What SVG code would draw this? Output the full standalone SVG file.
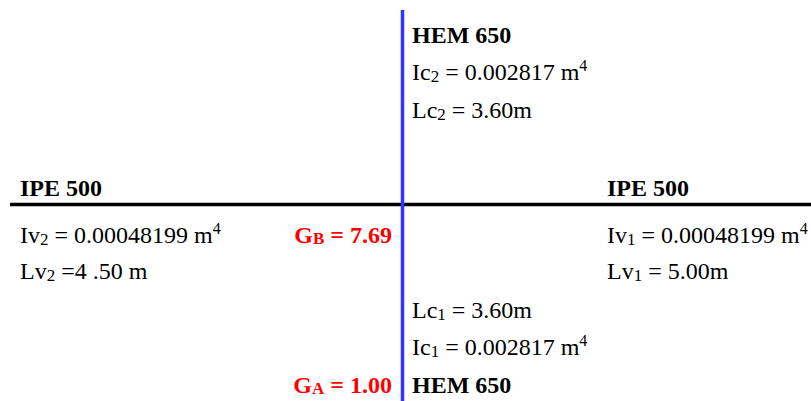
<svg xmlns="http://www.w3.org/2000/svg" width="811" height="401" viewBox="0 0 811 401">
<style>
text{font-family:"Liberation Serif","Times New Roman",serif;font-size:24px;fill:#000}
.b{font-weight:bold}
.r{font-weight:bold;fill:#ff0000}
.sub{font-size:17px}
.sup{font-size:16px}
</style>
<rect width="811" height="401" fill="#fff"/>
<g id="connectors">
<line x1="10" y1="204.5" x2="811" y2="204.5" stroke="#000" stroke-width="3.5"/>
<line x1="402.5" y1="10" x2="402.5" y2="401" stroke="#3333ff" stroke-width="3.5"/>
</g>
<g id="col-top">
<text class="b" x="412" y="43">HEM 650</text>
<text x="412" y="80">Ic<tspan class="sub" dy="2">2</tspan><tspan dy="-2"> = 0.002817 m</tspan><tspan class="sup" dy="-9">4</tspan></text>
<text x="412" y="118">Lc<tspan class="sub" dy="2">2</tspan><tspan dy="-2"> = 3.60m</tspan></text>
</g>
<g id="beam-left">
<text class="b" x="20" y="196">IPE 500</text>
<text x="20" y="243">Iv<tspan class="sub" dy="2">2</tspan><tspan dy="-2"> = 0.00048199 m</tspan><tspan class="sup" dy="-9">4</tspan></text>
<text x="20" y="279">Lv<tspan class="sub" dy="2">2</tspan><tspan dy="-2"> =4 .50 m</tspan></text>
</g>
<g id="beam-right">
<text class="b" x="607" y="196">IPE 500</text>
<text x="607" y="243">Iv<tspan class="sub" dy="2">1</tspan><tspan dy="-2"> = 0.00048199 m</tspan><tspan class="sup" dy="-9">4</tspan></text>
<text x="607" y="279">Lv<tspan class="sub" dy="2">1</tspan><tspan dy="-2"> = 5.00m</tspan></text>
</g>
<g id="col-bottom">
<text x="412" y="318">Lc<tspan class="sub" dy="2">1</tspan><tspan dy="-2"> = 3.60m</tspan></text>
<text x="412" y="355">Ic<tspan class="sub" dy="2">1</tspan><tspan dy="-2"> = 0.002817 m</tspan><tspan class="sup" dy="-9">4</tspan></text>
<text class="b" x="412" y="393">HEM 650</text>
</g>
<g id="GB">
<text class="r" x="392" y="243" text-anchor="end">G<tspan class="sub" dy="1">B</tspan><tspan dy="-1"> = 7.69</tspan></text>
</g>
<g id="GA">
<text class="r" x="392" y="393" text-anchor="end">G<tspan class="sub" dy="1">A</tspan><tspan dy="-1"> = 1.00</tspan></text>
</g>
</svg>
